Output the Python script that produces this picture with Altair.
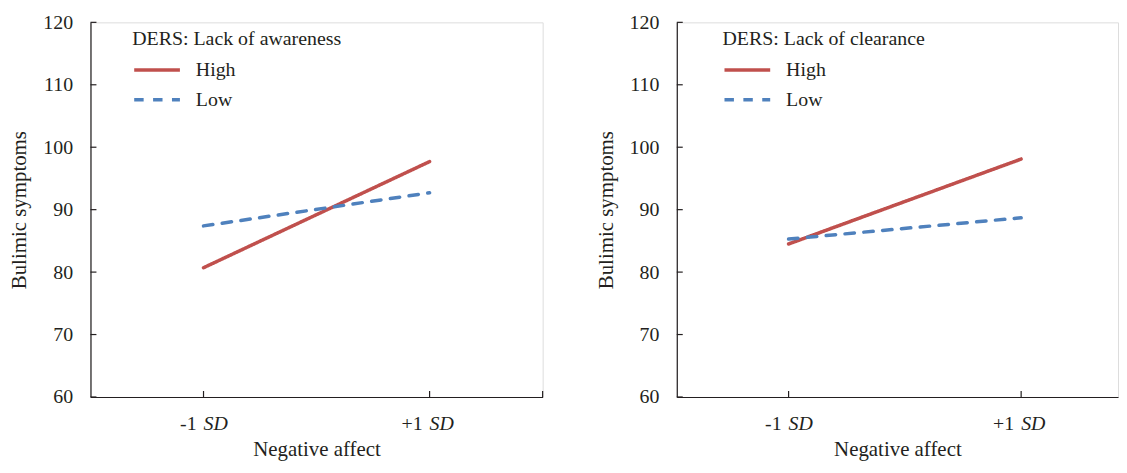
import altair as alt
import pandas as pd

# ---- data ----
x_levels = ["-1", "+1"]
x_pos = [1, 3]
sd_text = ["SD", "SD"]
groups = ["High", "Low"]
left_high = [80.7, 97.7]
left_low = [87.4, 92.7]
right_high = [84.5, 98.1]
right_low = [85.3, 88.7]
y_ticks = [60, 70, 80, 90, 100, 110, 120]
legend_titles = ["DERS: Lack of awareness", "DERS: Lack of clearance"]

FONT = "Liberation Serif"
INK = "#231f20"
RED = "#c0504d"
BLUE = "#4f81bd"
H = 377


def panel(high, low, legend_title, width, xdomain, xtick_pos, legend_x):
    rows = []
    for p, lvl, v in zip(x_pos, x_levels, high):
        rows.append(dict(pos=p, level=lvl, value=v, group="High"))
    for p, lvl, v in zip(x_pos, x_levels, low):
        rows.append(dict(pos=p, level=lvl, value=v, group="Low"))
    df = pd.DataFrame(rows)

    xscale = alt.Scale(domain=xdomain, nice=False, zero=False)
    yscale = alt.Scale(domain=[60, 120], nice=False, zero=False)
    xaxis = alt.Axis(title="Negative affect", ticks=False, labels=False, grid=False,
                     titlePadding=42)
    yaxis = alt.Axis(title="Bulimic symptoms", values=y_ticks, ticks=False,
                     labelPadding=18, grid=False, titlePadding=13)
    legend = alt.Legend(title=legend_title, orient="none", legendX=legend_x, legendY=7)

    lines = alt.Chart(df).mark_line(strokeWidth=3.5, strokeCap="round").encode(
        x=alt.X("pos:Q", scale=xscale, axis=xaxis),
        y=alt.Y("value:Q", scale=yscale, axis=yaxis),
        color=alt.Color("group:N", scale=alt.Scale(domain=groups, range=[RED, BLUE]),
                        legend=legend),
        strokeDash=alt.StrokeDash("group:N",
                                  scale=alt.Scale(domain=groups, range=[[1, 0], [9.5, 9.5]]),
                                  legend=legend),
    )

    yrules = alt.Chart(pd.DataFrame({"tick": y_ticks})).mark_rule(
        color=INK, strokeWidth=1.2).encode(
        y=alt.Y("tick:Q", scale=yscale, axis=yaxis),
        x=alt.value(0), x2=alt.value(6),
    )
    xrules = alt.Chart(pd.DataFrame({"pos": xtick_pos})).mark_rule(
        color=INK, strokeWidth=1.2).encode(
        x=alt.X("pos:Q", scale=xscale, axis=xaxis),
        y=alt.value(H), y2=alt.value(H - 6),
    )
    lab = pd.DataFrame({"pos": x_pos, "num": x_levels, "sd": sd_text})
    t_num = alt.Chart(lab).mark_text(align="right", baseline="middle", dx=-7,
                                     font=FONT, fontSize=20, color=INK).encode(
        x=alt.X("pos:Q", scale=xscale, axis=xaxis), y=alt.value(H + 27), text="num:N")
    t_sd = alt.Chart(lab).mark_text(align="left", baseline="middle", dx=0,
                                    font=FONT, fontSize=20, fontStyle="italic",
                                    color=INK).encode(
        x=alt.X("pos:Q", scale=xscale, axis=xaxis), y=alt.value(H + 27), text="sd:N")

    return alt.layer(lines, yrules, xrules, t_num, t_sd).properties(width=width, height=H)


left = panel(left_high, left_low, legend_titles[0], 455, [0, 4], [1, 3, 4], 42)
right = panel(right_high, right_low, legend_titles[1], 444, [0.0385, 3.833], [1, 3], 46)

chart = alt.hconcat(left, right, spacing=50).resolve_scale(
    color="independent", strokeDash="independent", x="independent", y="independent"
).resolve_legend(color="independent", strokeDash="independent").properties(
    padding={"left": 0, "top": 2, "right": 0, "bottom": 0}
).configure_view(stroke=None).configure(font=FONT).configure_axis(
    labelFont=FONT, labelFontSize=20, labelColor=INK, labelFontWeight="normal",
    titleFont=FONT, titleFontSize=21, titleColor=INK, titleFontWeight="normal",
    domainColor=INK, domainWidth=1.2, tickSize=0, grid=False,
).configure_legend(
    symbolType="stroke", symbolSize=2116, symbolStrokeWidth=3.5, clipHeight=20,
    rowPadding=10, titleFont=FONT, titleFontSize=20, titleFontWeight="normal",
    titleColor=INK, titlePadding=11, titleLimit=400, labelFont=FONT,
    labelFontSize=20, labelColor=INK, labelOffset=14, padding=0, direction="vertical",
)

chart.save("out.html", embed_options={"renderer": "svg", "actions": False})
